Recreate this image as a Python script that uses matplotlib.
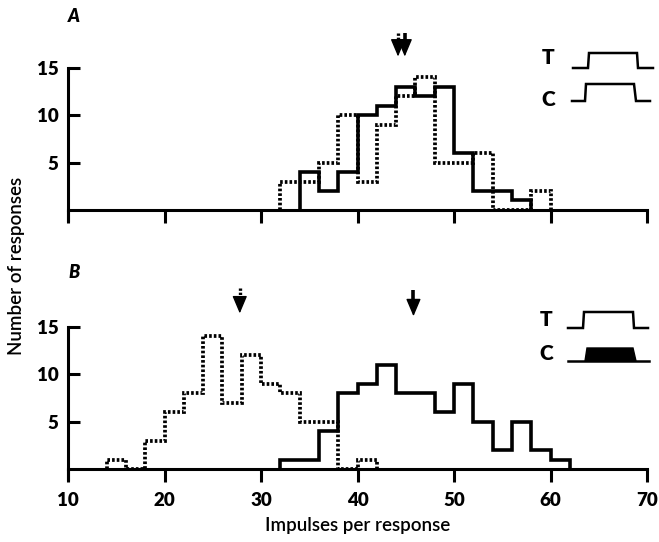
import matplotlib
matplotlib.use('Agg')
import matplotlib.pyplot as plt
from matplotlib.lines import Line2D
from matplotlib.patches import Polygon
import numpy as np

plt.rcParams['font.family'] = ['Lato', 'DejaVu Sans']

# ---- data (counts per 2-impulse bin) ----
bin_width = 2
A_solid_start = 34
A_solid_counts = [4, 2, 4, 10, 11, 13, 12, 13, 6, 2, 2, 1]
A_dotted_start = 32
A_dotted_counts = [3, 3, 5, 10, 3, 9, 12, 14, 5, 5, 6, 0, 0, 2]
B_solid_start = 32
B_solid_counts = [1, 1, 4, 8, 9, 11, 8, 8, 6, 9, 5, 2, 5, 2, 1]
B_dotted_start = 14
B_dotted_counts = [1, 0, 3, 6, 8, 14, 7, 12, 9, 8, 5, 5, 0, 1]

A_mean_dotted, A_mean_solid = 44.2, 44.9
B_mean_dotted, B_mean_solid = 27.8, 45.8

x_ticks = [10, 20, 30, 40, 50, 60, 70]
y_ticks = [5, 10, 15]
panel_labels = ['A', 'B']

W, H = 659, 542
fig = plt.figure(figsize=(W / 100, H / 100), dpi=100)

def fx(px):
    return px / W

def fy(py):
    return 1 - py / H

axA = fig.add_axes([fx(68), fy(228.9), fx(647) - fx(68), (228.9 - 25.3) / H])
axB = fig.add_axes([fx(68), fy(488), fx(647) - fx(68), (488 - 284) / H])

dot_ls = (0, (0.7, 0.55))
LW = 2.3

def edges(start, counts):
    return start + bin_width * np.arange(len(counts) + 1)

def style(ax, show_xlabels):
    ax.set_xlim(10, 70)
    ax.set_ylim(-2, 19.5)
    for s in ['top', 'right']:
        ax.spines[s].set_visible(False)
    ax.spines['bottom'].set_position(('data', 0))
    ax.spines['bottom'].set_bounds(10, 70)
    ax.spines['left'].set_bounds(-1.1, 15)
    for s in ['bottom', 'left']:
        ax.spines[s].set_linewidth(2.2)
    ax.set_xticks(x_ticks)
    ax.set_yticks(y_ticks)
    ax.tick_params(axis='x', direction='out', length=9.5, width=2.2, pad=7)
    ax.tick_params(axis='y', direction='in', length=8.5, width=2.2, pad=7)
    if show_xlabels:
        ax.set_xticklabels([str(t) for t in x_ticks], fontsize=13.5, fontweight='heavy')
    else:
        ax.set_xticklabels([])
    ax.set_yticklabels([str(t) for t in y_ticks], fontsize=13.5, fontweight='heavy')
    ax.patch.set_alpha(0)

def arrow(ax, x, ytop, ytip, dotted):
    head = 1.3
    ax.plot([x, x], [ytop, ytip + head * 0.8], color='black',
            lw=2.4 if dotted else 2.6, linestyle=dot_ls if dotted else '-',
            clip_on=False, solid_capstyle='butt')
    ax.annotate('', xy=(x, ytip), xytext=(x, ytip + head),
                arrowprops=dict(arrowstyle='-|>,head_width=0.38,head_length=0.9',
                                lw=1.0, color='black',
                                shrinkA=0, shrinkB=0, mutation_scale=12),
                annotation_clip=False)

for ax, (ss, sc, ds, dc), show in [
        (axA, (A_solid_start, A_solid_counts, A_dotted_start, A_dotted_counts), False),
        (axB, (B_solid_start, B_solid_counts, B_dotted_start, B_dotted_counts), True)]:
    style(ax, show)
    ax.stairs(dc, edges(ds, dc), baseline=0, color='black', linewidth=2.7,
              linestyle=dot_ls, fill=False)
    ax.stairs(sc, edges(ss, sc), baseline=0, color='black', linewidth=2.6,
              fill=False)

arrow(axA, A_mean_dotted, 18.7, 16.2, True)
arrow(axA, A_mean_solid, 18.7, 16.2, False)
arrow(axB, B_mean_dotted, 19.1, 16.4, True)
arrow(axB, B_mean_solid, 18.9, 16.1, False)

axB.set_xlabel('Impulses per response', fontsize=13.5, fontweight='semibold', labelpad=6)
fig.text(fx(17), fy(266), 'Number of responses', rotation=90, fontsize=13.5,
         fontweight='semibold', ha='center', va='center')

fig.text(fx(74), fy(17), panel_labels[0], fontsize=13, fontweight='heavy',
         style='italic', ha='center', va='center')
fig.text(fx(74), fy(272), panel_labels[1], fontsize=13, fontweight='heavy',
         style='italic', ha='center', va='center')

# ---- stimulus insets ----
def wave(pts, lw=1.8):
    xs = [fx(p[0]) for p in pts]
    ys = [fy(p[1]) for p in pts]
    fig.add_artist(Line2D(xs, ys, color='black', lw=lw, transform=fig.transFigure,
                          solid_joinstyle='miter'))

def letter(px, py, s):
    fig.text(fx(px), fy(py), s, fontsize=15, fontweight='heavy', ha='center', va='center')

letter(548, 58, 'T')
letter(548, 100, 'C')
wave([(573, 68), (588, 68), (589, 53), (637, 53), (638, 68), (653, 68)])
wave([(572, 101), (585, 101), (586, 84), (634, 84), (636, 101), (650, 101)])

letter(546, 320, 'T')
letter(546, 354, 'C')
wave([(568, 328), (583, 328), (584, 312), (633, 312), (634, 328), (648, 328)])
wave([(568, 361), (649, 361)])
blk = Polygon([(fx(585), fy(361)), (fx(587), fy(348)), (fx(633), fy(348)), (fx(636), fy(361))],
              closed=True, facecolor='black', edgecolor='black', lw=1,
              transform=fig.transFigure)
fig.add_artist(blk)

fig.savefig('out.png', dpi=100)
